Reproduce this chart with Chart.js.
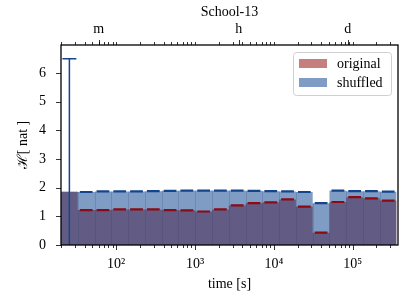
<!DOCTYPE html>
<html>
<head>
<meta charset="utf-8">
<script src="https://cdn.jsdelivr.net/npm/chart.js@4.4.0/dist/chart.umd.min.js"></script>
<style>
  body { margin: 0; background: #fff; }
</style>
</head>
<body>
<canvas id="myChart" width="406" height="308"></canvas>
<script>
// log spaced bins [s]
const binEdges = [20, 32.64, 53.29, 86.97, 141.9, 231.7, 378.2, 617.3, 1007, 1644, 2683,
    4379, 7148, 11666, 19042, 31083, 50732, 82810, 135160, 220620, 360000];
const original = [1.86, 1.22, 1.22, 1.24, 1.24, 1.24, 1.22, 1.21, 1.17, 1.24,
    1.38, 1.46, 1.49, 1.59, 1.34, 0.43, 1.50, 1.67, 1.63, 1.55];
const shuffled = [1.86, 1.85, 1.87, 1.87, 1.87, 1.88, 1.89, 1.90, 1.90, 1.90,
    1.90, 1.89, 1.88, 1.87, 1.85, 1.46, 1.90, 1.88, 1.88, 1.86];
const errTop = 6.5;   // error bar on first shuffled bin
const yTicks = [0, 1, 2, 3, 4, 5, 6];
const xTicks = [100, 1000, 10000, 100000];
const topTicks = [60, 3600, 86400];
const topLabels = ['m', 'h', 'd'];

const serif = "'Liberation Serif', 'DejaVu Serif', serif";
const redFill = 'rgba(139,0,0,0.5)';
const blueFill = 'rgba(0,57,137,0.5)';
const redLine = '#8c0a12';
const blueLine = '#13458f';

function steps(vals) {
    const pts = vals.map((v, i) => ({x: binEdges[i], y: v}));
    pts.push({x: binEdges[vals.length], y: vals[vals.length - 1]});
    return pts;
}

function tops(vals) {
    // short flat marks over each bin, first bin has none
    const pts = [];
    for (let i = 1; i < vals.length; i++) {
        const lo = binEdges[i], hi = binEdges[i + 1];
        const k = Math.pow(hi / lo, 0.12);
        pts.push({x: lo * k, y: vals[i]});
        pts.push({x: hi / k, y: vals[i]});
        pts.push({x: Math.sqrt(lo * hi), y: null});
    }
    return pts;
}

const c0 = Math.sqrt(binEdges[0] * binEdges[1]);
const sup = {'0':'⁰','1':'¹','2':'²','3':'³','4':'⁴','5':'⁵','6':'⁶','7':'⁷','8':'⁸','9':'⁹'};

const decor = {
    id: 'decor',
    afterDatasetDraw(chart, args) {
        if (chart.data.datasets[args.index].label !== 'shuffled') return;
        const ctx = chart.ctx, x = chart.scales.x, y = chart.scales.y;
        ctx.save();
        ctx.strokeStyle = 'rgba(40,50,100,0.18)';
        ctx.lineWidth = 1;
        for (let i = 1; i < binEdges.length - 1; i++) {
            const px = Math.round(x.getPixelForValue(binEdges[i])) + 0.5;
            ctx.beginPath();
            ctx.moveTo(px, y.getPixelForValue(0));
            ctx.lineTo(px, y.getPixelForValue(Math.min(
                Math.max(shuffled[i - 1], original[i - 1]), Math.max(shuffled[i], original[i]))));
            ctx.stroke();
        }
        ctx.restore();
    },
    afterDraw(chart) {
        const ctx = chart.ctx, a = chart.chartArea;
        const x = chart.scales.x, y = chart.scales.y;
        ctx.save();
        ctx.strokeStyle = '#000';
        ctx.lineWidth = 0.8;
        ctx.beginPath();
        for (let n = 1; n <= 5; n++) {
            for (let k = 1; k <= 9; k++) {
                const v = k * Math.pow(10, n);
                if (v < x.min || v > x.max) continue;
                const px = Math.round(x.getPixelForValue(v)) + 0.5;
                const len = k === 1 ? 5 : 3;
                ctx.moveTo(px, a.bottom); ctx.lineTo(px, a.bottom + len);
                ctx.moveTo(px, a.top); ctx.lineTo(px, a.top - 3);
            }
        }
        topTicks.forEach(v => {
            const px = Math.round(x.getPixelForValue(v)) + 0.5;
            ctx.moveTo(px, a.top); ctx.lineTo(px, a.top - 5);
        });
        yTicks.forEach(v => {
            const py = Math.round(y.getPixelForValue(v)) + 0.5;
            ctx.moveTo(a.left, py); ctx.lineTo(a.left - 5, py);
        });
        ctx.stroke();
        // frame
        ctx.lineWidth = 1.3;
        ctx.strokeRect(a.left, a.top, a.right - a.left, a.bottom - a.top);

        // legend
        const bx = a.right - 105, by = a.top + 7, bw = 98, bh = 43;
        ctx.fillStyle = 'rgba(255,255,255,0.8)';
        ctx.strokeStyle = '#d0d0d0';
        ctx.lineWidth = 1;
        ctx.beginPath();
        ctx.roundRect(bx + 0.5, by + 0.5, bw, bh, 3);
        ctx.fill();
        ctx.stroke();
        const items = [['original', redFill], ['shuffled', blueFill]];
        ctx.font = '14px ' + serif;
        ctx.textBaseline = 'middle';
        items.forEach((it, i) => {
            const sy = by + 7 + i * 19;
            ctx.fillStyle = it[1];
            ctx.fillRect(bx + 6, sy, 28, 9);
            ctx.fillStyle = '#000';
            ctx.fillText(it[0], bx + 44, sy + 5);
        });
        ctx.restore();
    }
};

const ctx = document.getElementById('myChart').getContext('2d');
const font = {family: serif, size: 14};
const myChart = new Chart(ctx, {
    type: 'line',
    data: {
        datasets: [
            {label: 'err', data: [{x: c0, y: 0}, {x: c0, y: errTop}, {x: c0, y: null},
                {x: c0 / 1.226, y: errTop}, {x: c0 * 1.226, y: errTop}],
             borderColor: blueLine, borderWidth: 1.5, order: 0},
            {label: 'shuffled top', data: tops(shuffled), borderColor: blueLine, borderWidth: 2.2, order: 1},
            {label: 'original top', data: tops(original), borderColor: redLine, borderWidth: 2.2, order: 2},
            {label: 'shuffled', data: steps(shuffled), stepped: true, fill: 'origin',
             backgroundColor: blueFill, borderWidth: 0, order: 3},
            {label: 'original', data: steps(original), stepped: true, fill: 'origin',
             backgroundColor: redFill, borderWidth: 0, order: 4}
        ]
    },
    options: {
        responsive: false,
        animation: false,
        layout: {padding: {right: 8}},
        elements: {point: {radius: 0}, line: {tension: 0}},
        plugins: {legend: {display: false}, tooltip: {enabled: false}},
        scales: {
            x: {
                type: 'logarithmic', position: 'bottom', min: 20, max: 375000,
                grid: {display: false}, border: {display: false},
                afterBuildTicks: s => { s.ticks = xTicks.map(v => ({value: v})); },
                ticks: {
                    autoSkip: false, maxRotation: 0, padding: 3, color: '#000', font: font,
                    callback: v => '10' + String(Math.round(Math.log10(v))).split('').map(d => sup[d]).join('')
                },
                title: {display: true, text: 'time [s]', color: '#000', font: font, padding: {top: 0, bottom: 15}},
                afterFit: s => { s.height = 63; }
            },
            x2: {
                type: 'logarithmic', position: 'top', min: 20, max: 375000,
                grid: {display: false}, border: {display: false},
                afterBuildTicks: s => { s.ticks = topTicks.map(v => ({value: v})); },
                ticks: {
                    autoSkip: false, maxRotation: 0, padding: -1, color: '#000', font: font,
                    callback: (v, i) => topLabels[i]
                },
                title: {display: true, text: 'School-13', color: '#000', font: font, padding: {top: 4, bottom: 0}},
                afterFit: s => { s.height = 45; }
            },
            y: {
                type: 'linear', min: 0, max: 6.98,
                grid: {display: false}, border: {display: false},
                afterBuildTicks: s => { s.ticks = yTicks.map(v => ({value: v})); },
                ticks: {padding: 7, color: '#000', font: font},
                title: {display: true, text: 'ℋ[ nat ]', color: '#000', font: font, padding: {top: 15, bottom: 0}},
                afterFit: s => { s.width = 61; }
            }
        }
    },
    plugins: [decor]
});
</script>
</body>
</html>
